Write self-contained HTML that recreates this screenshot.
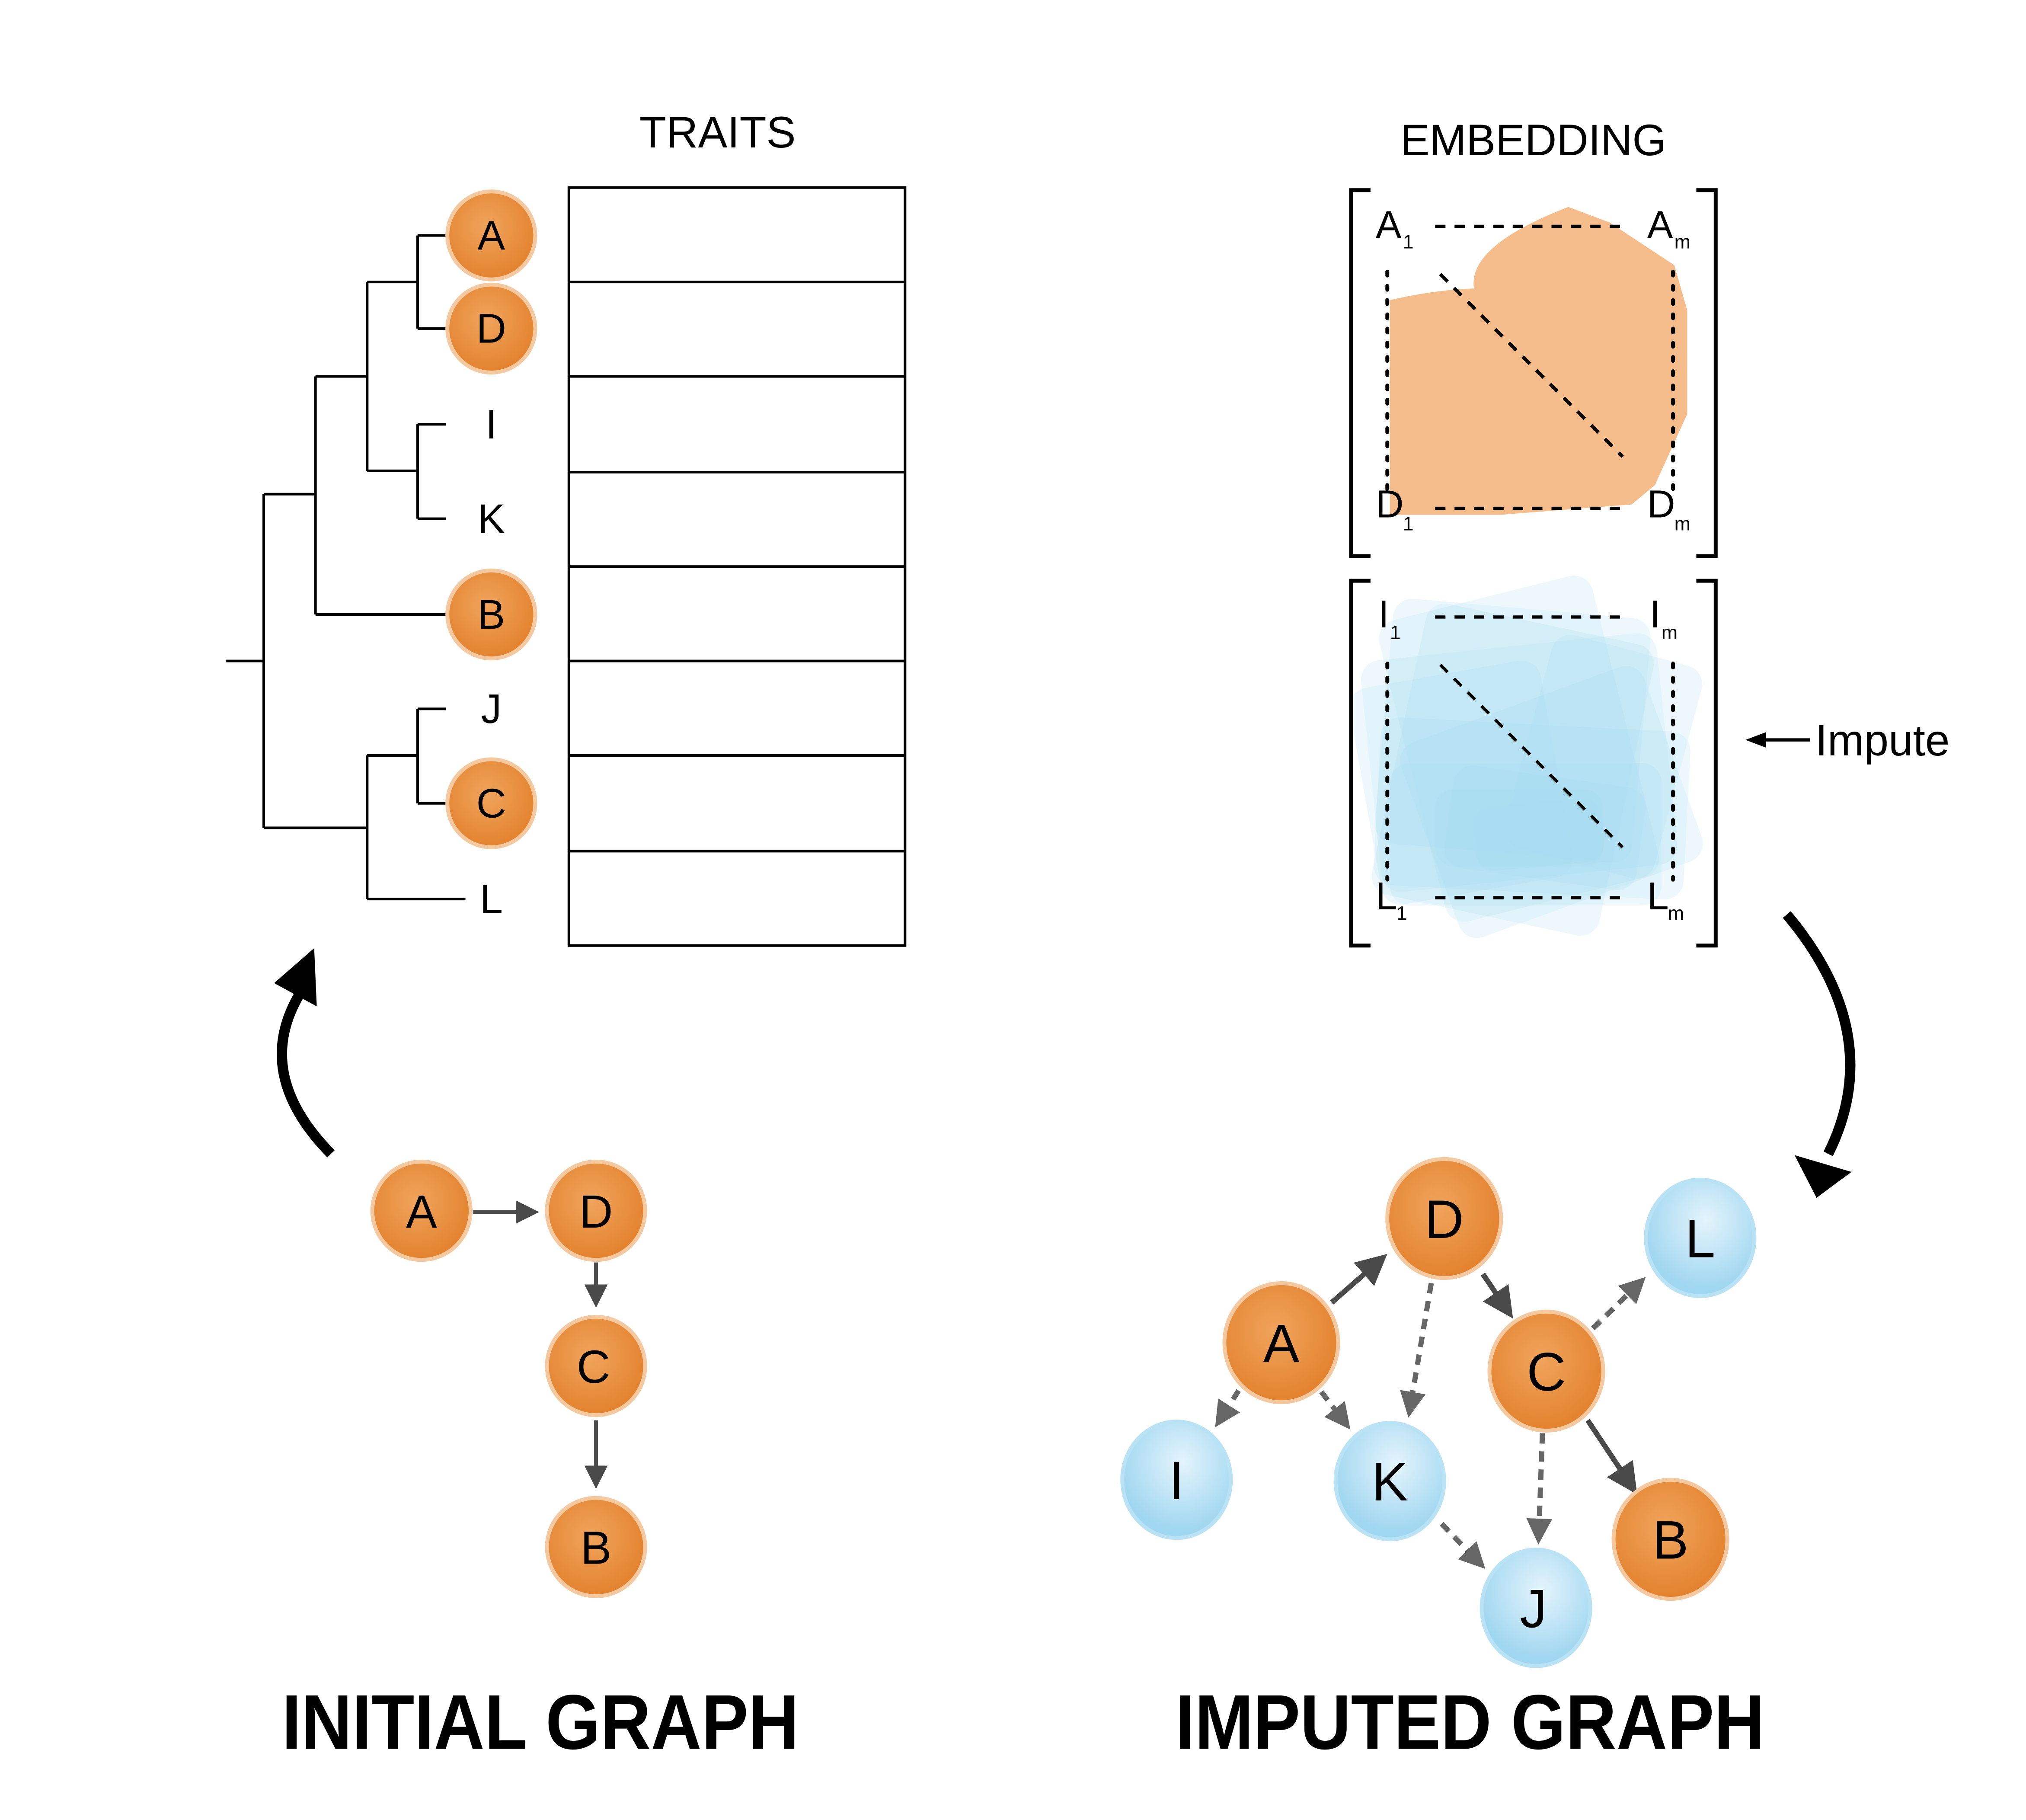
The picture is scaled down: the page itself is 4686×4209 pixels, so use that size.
<!DOCTYPE html>
<html><head><meta charset="utf-8"><style>
html,body{margin:0;padding:0;background:#fff}
svg{display:block}
text{font-family:"Liberation Sans",sans-serif}
</style></head><body>
<svg width="4686" height="4209" viewBox="0 0 1567 1407" preserveAspectRatio="none" xmlns="http://www.w3.org/2000/svg">
<defs>
<marker id="ah" markerWidth="6" markerHeight="6" refX="5" refY="3" orient="auto" markerUnits="strokeWidth"><path d="M0,0 L6,3 L0,6 Z" fill="#4a4a4a"/></marker>
<marker id="ahd" markerWidth="5" markerHeight="5" refX="4" refY="2.5" orient="auto" markerUnits="strokeWidth"><path d="M0,0 L5,2.5 L0,5 Z" fill="#666"/></marker>
<radialGradient id="og" cx="45%" cy="40%" r="60%"><stop offset="0" stop-color="#f0a45c"/><stop offset="1" stop-color="#e3822e"/></radialGradient>
<radialGradient id="bg" cx="55%" cy="35%" r="60%"><stop offset="0" stop-color="#e4f4fc"/><stop offset="1" stop-color="#9fd6f0"/></radialGradient>
</defs>
<rect width="1567" height="1407" fill="#fff"/>

<g stroke="#000" stroke-width="2" fill="none">
<path d="M175,511 H204 M204,382 V640 M204,382 H244 M244,291 V475 M244,475 H345 M244,291 H284 M284,218 V364 M284,218 H323 M323,182 V254 M323,182 H345 M323,254 H345 M284,364 H323 M323,328 V401 M323,328 H345 M323,401 H345 M204,640 H284 M284,584 V695 M284,584 H323 M323,548 V621 M323,548 H345 M323,621 H345 M284,695 H360"/>
</g>
<g fill="url(#og)" stroke="#f4c9a0" stroke-width="3">
<circle cx="380" cy="182" r="34"/><circle cx="380" cy="254" r="34"/><circle cx="380" cy="475" r="34"/><circle cx="380" cy="621" r="34"/>
</g>
<g font-size="32" text-anchor="middle" fill="#000">
<text x="380" y="193">A</text><text x="380" y="265">D</text><text x="380" y="339">I</text><text x="380" y="412">K</text><text x="380" y="486">B</text><text x="380" y="559">J</text><text x="380" y="632">C</text><text x="380" y="706">L</text>
</g>
<text x="555" y="114" font-size="34" text-anchor="middle">TRAITS</text>
<g stroke="#000" stroke-width="2" fill="none">
<rect x="440" y="145" width="260" height="586"/>
<path d="M440,218 H700 M440,291 H700 M440,365 H700 M440,438 H700 M440,511 H700 M440,584 H700 M440,658 H700"/>
</g>

<text x="1186" y="120" font-size="34" text-anchor="middle">EMBEDDING</text>
<path d="M1075,232 Q1110,224 1140,223 Q1135,190 1213,160 L1245,172 L1295,205 L1305,240 L1305,320 L1280,375 L1262,390 L1160,398 L1075,398 Z" fill="#f5bd8c"/>
<g opacity="0.85">
<g fill="#8fd0ee" fill-opacity="0.18">
<rect x="1070" y="470" width="200" height="190" rx="15" transform="rotate(5 1170 565)"/>
<rect x="1060" y="500" width="230" height="180" rx="15" transform="rotate(-6 1170 590)"/>
<rect x="1080" y="480" width="180" height="230" rx="15" transform="rotate(12 1170 595)"/>
<rect x="1090" y="460" width="170" height="240" rx="15" transform="rotate(-14 1170 580)"/>
<rect x="1065" y="560" width="240" height="130" rx="15" transform="rotate(3 1185 625)"/>
<rect x="1100" y="540" width="200" height="160" rx="15" transform="rotate(-20 1200 620)"/>
<rect x="1075" y="590" width="210" height="110" rx="15"/>
<rect x="1120" y="600" width="150" height="80" rx="15" transform="rotate(8 1195 640)"/>
<rect x="1055" y="520" width="150" height="170" rx="15" transform="rotate(-10 1130 605)"/>
<rect x="1180" y="500" width="120" height="170" rx="15" transform="rotate(15 1240 585)"/>
<rect x="1110" y="610" width="130" height="60" rx="15"/>
<rect x="1140" y="620" width="100" height="50" rx="15" transform="rotate(-5 1190 645)"/>
</g></g>
<g stroke="#000" stroke-width="3" fill="none">
<path d="M1060,147 H1045 V430 H1060 M1312,147 H1327 V430 H1312"/>
<path d="M1060,449 H1045 V731 H1060 M1312,449 H1327 V731 H1312"/>
</g>
<g stroke="#000" stroke-width="2.5" fill="none" stroke-dasharray="8,7">
<path d="M1110,175 H1255 M1110,393 H1255 M1114,212 L1255,353"/>
<path d="M1110,477 H1255 M1110,694 H1255 M1114,514 L1255,655"/>
</g>
<g stroke="#000" stroke-width="3" fill="none" stroke-dasharray="3,8" stroke-linecap="round">
<path d="M1073,210 V378 M1294,210 V378 M1073,513 V680 M1294,513 V680"/>
</g>
<g font-size="30" fill="#000">
<text x="1064" y="184">A</text><text x="1085" y="192" font-size="15">1</text>
<text x="1274" y="184">A</text><text x="1295" y="192" font-size="15">m</text>
<text x="1064" y="400">D</text><text x="1085" y="410" font-size="15">1</text>
<text x="1274" y="400">D</text><text x="1295" y="410" font-size="15">m</text>
<text x="1066" y="485">I</text><text x="1075" y="494" font-size="15">1</text>
<text x="1276" y="485">I</text><text x="1285" y="494" font-size="15">m</text>
<text x="1064" y="703">L</text><text x="1080" y="711" font-size="15">1</text>
<text x="1274" y="703">L</text><text x="1290" y="711" font-size="15">m</text>
</g>
<path d="M1400,572 H1362" stroke="#000" stroke-width="2.5"/>
<path d="M1350,572 L1366,566 L1366,578 Z" fill="#000"/>
<text x="1404" y="584" font-size="34">Impute</text>

<path d="M256,892 Q195,830 232,768" stroke="#000" stroke-width="8" fill="none"/>
<path d="M243,733 L212,760 L245,778 Z" fill="#000"/>
<path d="M1382,707 Q1460,800 1414,892" stroke="#000" stroke-width="8" fill="none"/>
<path d="M1405,926 L1388,893 L1432,906 Z" fill="#000"/>

<g stroke="#4a4a4a" stroke-width="3" fill="none" marker-end="url(#ah)">
<path d="M366,937 H414"/><path d="M461,976 V1008"/><path d="M461,1098 V1148"/>
</g>
<g fill="url(#og)" stroke="#f4c9a0" stroke-width="3">
<circle cx="326" cy="936" r="38"/><circle cx="461" cy="936" r="38"/><circle cx="461" cy="1056" r="38"/><circle cx="461" cy="1196" r="38"/>
</g>
<g font-size="36" text-anchor="middle" fill="#000">
<text x="326" y="949">A</text><text x="461" y="949">D</text><text x="459" y="1069">C</text><text x="461" y="1209">B</text>
</g>
<text x="418" y="1352" font-size="60" font-weight="bold" text-anchor="middle" textLength="400" lengthAdjust="spacingAndGlyphs">INITIAL GRAPH</text>

<g stroke="#4a4a4a" stroke-width="4" fill="none" marker-end="url(#ah)">
<path d="M1030,1007 L1070,972"/><path d="M1147,985 L1168,1016"/><path d="M1228,1098 L1264,1152"/>
</g>
<g stroke="#666" stroke-width="4" fill="none" stroke-dasharray="8,6" marker-end="url(#ahd)">
<path d="M1107,992 L1090,1092"/><path d="M958,1075 L942,1100"/><path d="M1022,1076 L1042,1102"/>
<path d="M1115,1178 L1146,1210"/><path d="M1193,1108 L1190,1190"/><path d="M1232,1027 L1270,990"/>
</g>
<g fill="url(#og)" stroke="#f4c9a0" stroke-width="3">
<ellipse cx="1117" cy="942" rx="44" ry="46"/><ellipse cx="991" cy="1038" rx="44" ry="46"/><ellipse cx="1196" cy="1060" rx="44" ry="46"/><ellipse cx="1292" cy="1190" rx="44" ry="46"/>
</g>
<g fill="url(#bg)" stroke="#b9e2f5" stroke-width="3">
<ellipse cx="1315" cy="957" rx="42" ry="45"/><ellipse cx="910" cy="1144" rx="42" ry="45"/><ellipse cx="1075" cy="1145" rx="42" ry="45"/><ellipse cx="1188" cy="1243" rx="42" ry="45"/>
</g>
<g font-size="42" text-anchor="middle" fill="#000">
<text x="1117" y="957">D</text><text x="991" y="1053">A</text><text x="1196" y="1075">C</text><text x="1292" y="1205">B</text>
<text x="1315" y="972">L</text><text x="910" y="1159">I</text><text x="1075" y="1160">K</text><text x="1186" y="1258">J</text>
</g>
<text x="1137" y="1352" font-size="60" font-weight="bold" text-anchor="middle" textLength="456" lengthAdjust="spacingAndGlyphs">IMPUTED GRAPH</text>
</svg>
</body></html>
